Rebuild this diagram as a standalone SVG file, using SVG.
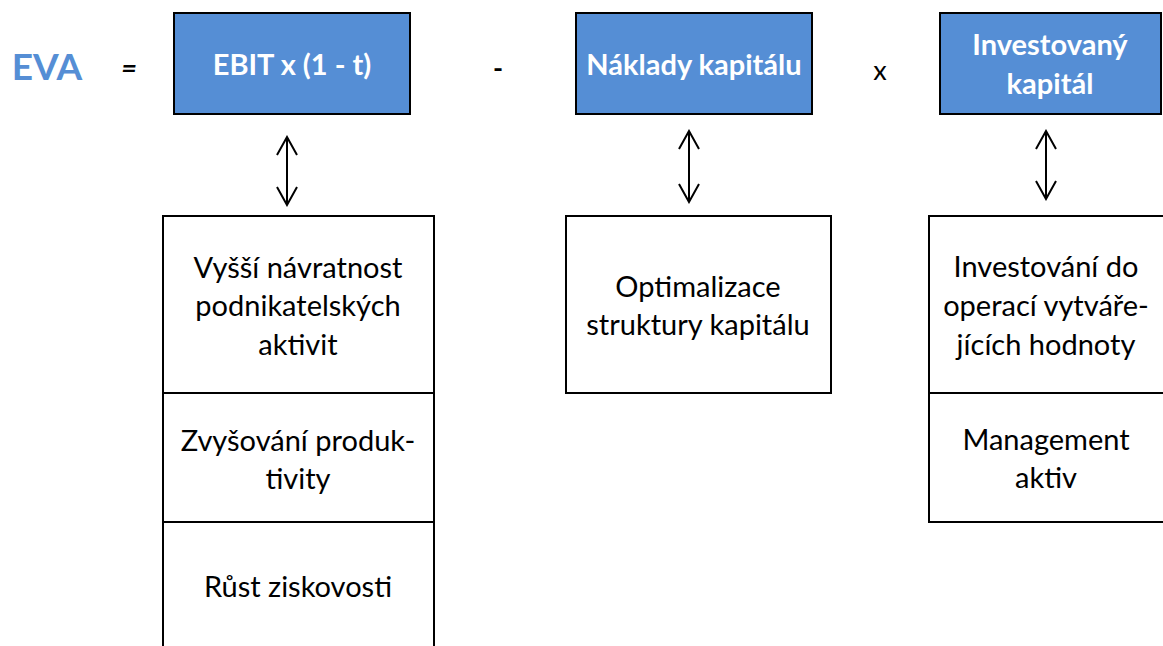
<svg xmlns="http://www.w3.org/2000/svg" width="1163" height="646" viewBox="0 0 1163 646">
<defs>
<marker id="head" viewBox="0 0 22 22" refX="20" refY="11" markerWidth="22" markerHeight="22" markerUnits="userSpaceOnUse" orient="auto-start-reverse">
<path d="M2,1 L20,11 L2,21" fill="none" stroke="#000" stroke-width="2"/>
</marker>
</defs>
<style>
.blue{fill:#558ED5;stroke:#000;stroke-width:2}
.box{fill:#fff;stroke:#000;stroke-width:2}
.bt{font-family:Lato,"Liberation Sans",sans-serif;font-weight:bold;font-size:29px;fill:#fff;text-anchor:middle}
.t{font-family:Lato,"Liberation Sans",sans-serif;font-size:29px;fill:#000;text-anchor:middle}
.op{font-family:Lato,"Liberation Sans",sans-serif;font-size:27px;fill:#000;text-anchor:middle}
.arr{stroke:#000;stroke-width:2;fill:none;marker-start:url(#head);marker-end:url(#head)}
</style>
<rect width="1163" height="646" fill="#fff"/>
<g id="eva">
<text x="47" y="80" font-family="Lato,'Liberation Sans',sans-serif" font-weight="bold" font-size="37" fill="#558ED5" text-anchor="middle">EVA</text>
</g>
<g id="operators">
<text x="129" y="78" class="op" font-weight="bold" font-style="italic">=</text>
<text x="498" y="78" class="op" font-weight="bold">-</text>
<text x="880" y="80" class="op">x</text>
</g>
<g id="ebit">
<rect x="174" y="13" width="236" height="101" class="blue"/>
<text x="292" y="75" class="bt">EBIT x (1 - t)</text>
</g>
<g id="naklady">
<rect x="576" y="13" width="236" height="101" class="blue"/>
<text x="694" y="75" class="bt">Náklady kapitálu</text>
</g>
<g id="investovany">
<rect x="940" y="13" width="221" height="101" class="blue"/>
<text x="1050" y="55" class="bt">Investovaný</text>
<text x="1050" y="94" class="bt">kapitál</text>
</g>
<g id="connectors">
<line x1="287" y1="137" x2="287" y2="205" class="arr"/>
<line x1="689" y1="131" x2="689" y2="202" class="arr"/>
<line x1="1046" y1="131" x2="1046" y2="199" class="arr"/>
</g>
<g id="ebit-factors">
<rect x="163" y="216" width="271" height="440" class="box"/>
<line x1="163" y1="393" x2="434" y2="393" stroke="#000" stroke-width="2"/>
<line x1="163" y1="522" x2="434" y2="522" stroke="#000" stroke-width="2"/>
<text x="298" y="278" class="t">Vyšší návratnost</text>
<text x="298" y="316" class="t">podnikatelských</text>
<text x="298" y="355" class="t">aktivit</text>
<text x="298" y="451" class="t">Zvyšování produk-</text>
<text x="298" y="489" class="t">tivity</text>
<text x="298" y="597" class="t">Růst ziskovosti</text>
</g>
<g id="naklady-factors">
<rect x="566" y="216" width="265" height="177" class="box"/>
<text x="698" y="297" class="t">Optimalizace</text>
<text x="698" y="335" class="t">struktury kapitálu</text>
</g>
<g id="investovany-factors">
<rect x="929" y="216" width="250" height="306" class="box"/>
<line x1="929" y1="393" x2="1163" y2="393" stroke="#000" stroke-width="2"/>
<text x="1046" y="277" class="t">Investování do</text>
<text x="1046" y="316" class="t">operací vytváře-</text>
<text x="1046" y="355" class="t">jících hodnoty</text>
<text x="1046" y="450" class="t">Management</text>
<text x="1046" y="488" class="t">aktiv</text>
</g>
</svg>
